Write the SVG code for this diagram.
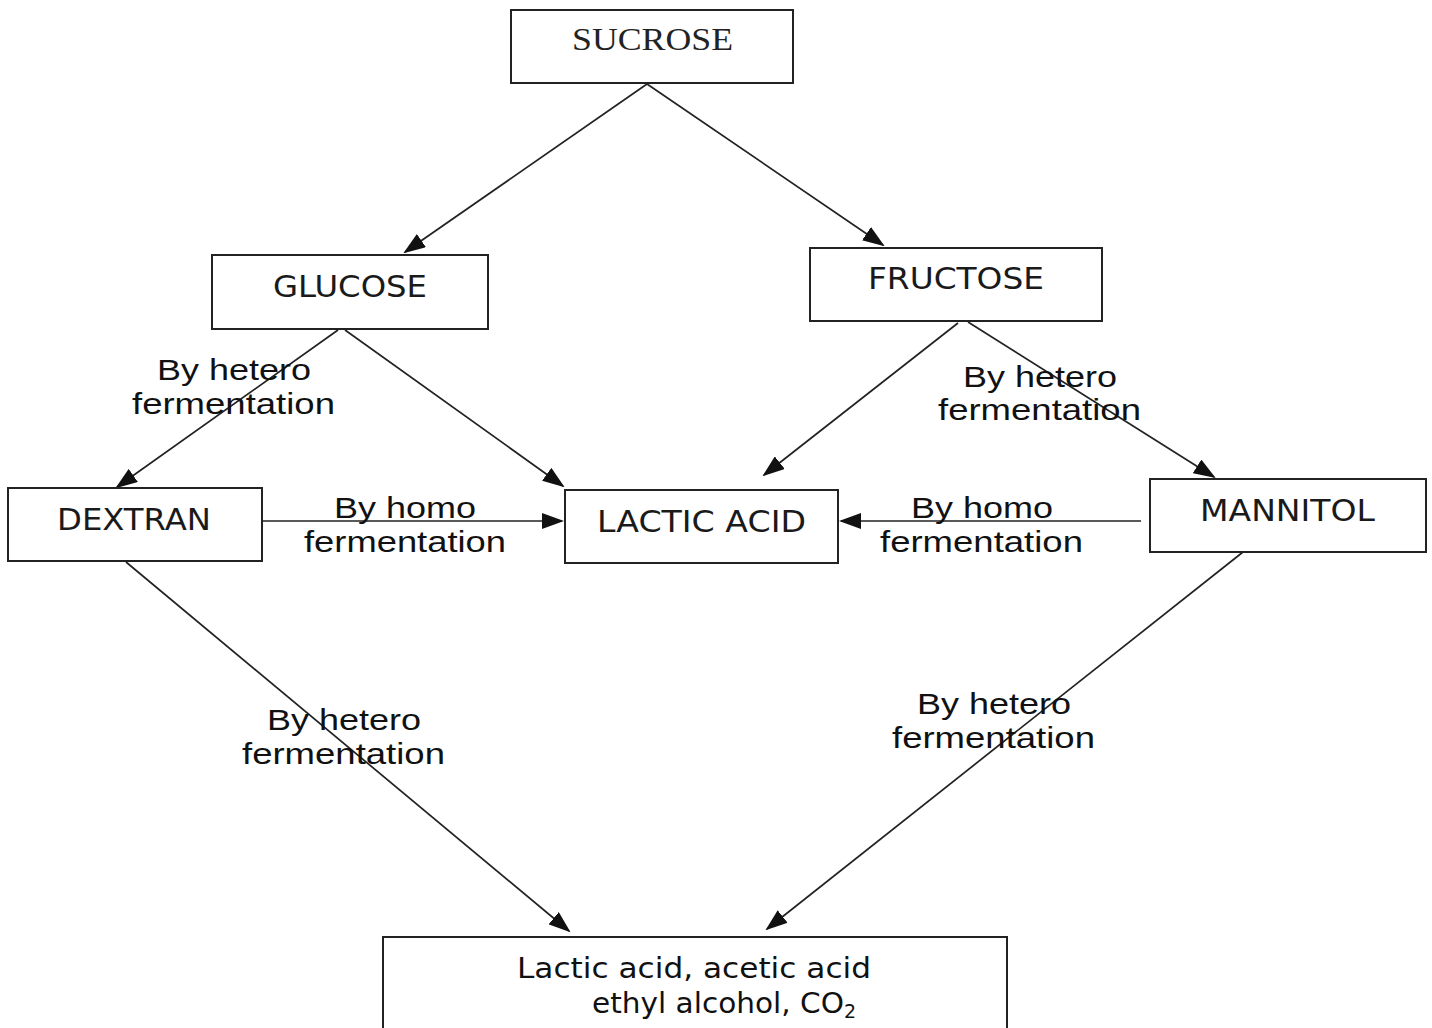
<svg xmlns="http://www.w3.org/2000/svg" width="1432" height="1028" viewBox="0 0 1432 1028">
<defs>
<marker id="ah" markerWidth="22" markerHeight="16" refX="20" refY="8" orient="auto" markerUnits="userSpaceOnUse">
<path d="M0,0 L22,8 L0,16 Z" fill="#111"/>
</marker>
<style>
.box{fill:#fff;stroke:#222;stroke-width:2}
.edge{stroke:#222;stroke-width:1.7;fill:none;marker-end:url(#ah)}
.serif{font-family:"Liberation Serif","Times New Roman",serif;font-size:31px;fill:#222}
.node{font-family:"DejaVu Sans",Verdana,sans-serif;font-size:30px;fill:#1a1a1a}
.lbl{font-family:"Liberation Sans",Arial,sans-serif;font-size:30px;fill:#111}
.bot{font-family:"DejaVu Sans",Tahoma,sans-serif;font-size:28px;fill:#111}
</style>
</defs>
<rect width="1432" height="1028" fill="#fff"/>
<g id="connectors">
<line class="edge" x1="647" y1="84" x2="405" y2="252"/>
<line class="edge" x1="647" y1="84" x2="883" y2="245"/>
<line class="edge" x1="338" y1="330" x2="117" y2="487"/>
<line class="edge" x1="345" y1="330" x2="563" y2="486"/>
<line class="edge" x1="958" y1="323" x2="764" y2="475"/>
<line class="edge" x1="968" y1="322" x2="1214" y2="477"/>
<line class="edge" x1="263" y1="521" x2="562" y2="521"/>
<line class="edge" x1="1141" y1="521" x2="841" y2="521"/>
<line class="edge" x1="126" y1="562" x2="569" y2="931"/>
<line class="edge" x1="1243" y1="552" x2="767" y2="929"/>
</g>
<g id="sucrose">
<rect class="box" x="511" y="10" width="282" height="73"/>
<text class="serif" x="572" y="50" textLength="161" lengthAdjust="spacingAndGlyphs">SUCROSE</text>
</g>
<g id="glucose">
<rect class="box" x="212" y="255" width="276" height="74"/>
<text class="node" x="273" y="297" textLength="154" lengthAdjust="spacingAndGlyphs">GLUCOSE</text>
</g>
<g id="fructose">
<rect class="box" x="810" y="248" width="292" height="73"/>
<text class="node" x="868" y="289" textLength="176" lengthAdjust="spacingAndGlyphs">FRUCTOSE</text>
</g>
<g id="dextran">
<rect class="box" x="8" y="488" width="254" height="73"/>
<text class="node" x="57" y="530" textLength="154" lengthAdjust="spacingAndGlyphs">DEXTRAN</text>
</g>
<g id="lactic">
<rect class="box" x="565" y="490" width="273" height="73"/>
<text class="node" x="597" y="532" textLength="209" lengthAdjust="spacingAndGlyphs">LACTIC ACID</text>
</g>
<g id="mannitol">
<rect class="box" x="1150" y="479" width="276" height="73"/>
<text class="node" x="1200" y="521" textLength="175" lengthAdjust="spacingAndGlyphs">MANNITOL</text>
</g>
<g id="products">
<rect class="box" x="383" y="937" width="624" height="100"/>
<text class="bot" x="517" y="978" textLength="354" lengthAdjust="spacingAndGlyphs">Lactic acid, acetic acid</text>
<text class="bot" x="592" y="1013"><tspan textLength="252" lengthAdjust="spacingAndGlyphs">ethyl alcohol, CO</tspan><tspan font-size="19" dy="5">2</tspan></text>
</g>
<g id="labels">
<text class="lbl" x="157" y="380" textLength="154" lengthAdjust="spacingAndGlyphs">By hetero</text>
<text class="lbl" x="132" y="414" textLength="203" lengthAdjust="spacingAndGlyphs">fermentation</text>
<text class="lbl" x="963" y="387" textLength="154" lengthAdjust="spacingAndGlyphs">By hetero</text>
<text class="lbl" x="938" y="420" textLength="203" lengthAdjust="spacingAndGlyphs">fermentation</text>
<text class="lbl" x="334" y="518" textLength="142" lengthAdjust="spacingAndGlyphs">By homo</text>
<text class="lbl" x="304" y="552" textLength="202" lengthAdjust="spacingAndGlyphs">fermentation</text>
<text class="lbl" x="911" y="518" textLength="142" lengthAdjust="spacingAndGlyphs">By homo</text>
<text class="lbl" x="880" y="552" textLength="203" lengthAdjust="spacingAndGlyphs">fermentation</text>
<text class="lbl" x="267" y="730" textLength="154" lengthAdjust="spacingAndGlyphs">By hetero</text>
<text class="lbl" x="242" y="764" textLength="203" lengthAdjust="spacingAndGlyphs">fermentation</text>
<text class="lbl" x="917" y="714" textLength="154" lengthAdjust="spacingAndGlyphs">By hetero</text>
<text class="lbl" x="892" y="748" textLength="203" lengthAdjust="spacingAndGlyphs">fermentation</text>
</g>
</svg>
